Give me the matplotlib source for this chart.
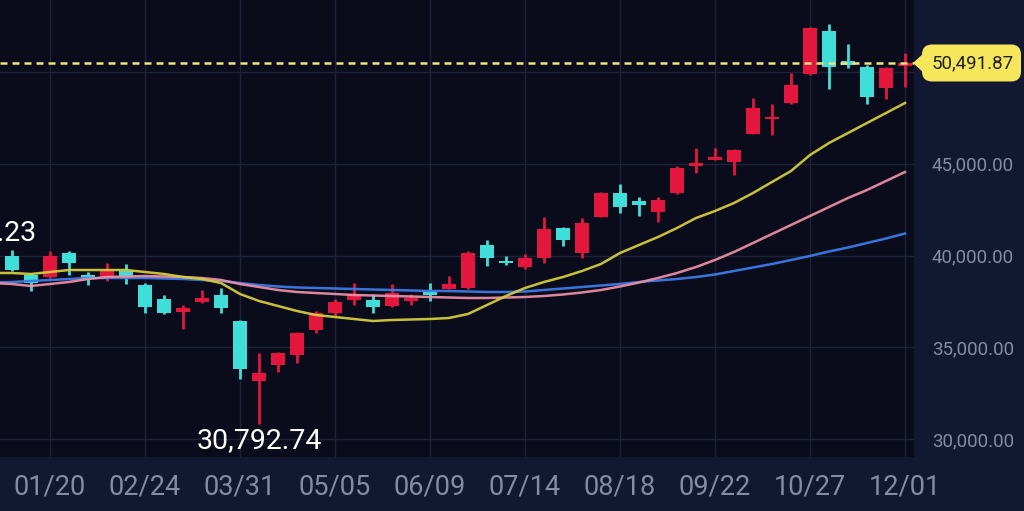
import matplotlib
matplotlib.use('Agg')
import matplotlib.pyplot as plt
import numpy as np
import pandas as pd
from matplotlib.patches import FancyBboxPatch, Polygon

# ---------------- data (weekly candles) ----------------
weeks = pd.date_range('2025-01-06', periods=48, freq='7D')
opens = [39973, 38937, 38828, 40136, 38937, 38828, 39155, 38392, 37629, 36921,
         37466, 37847, 36430, 33160, 34032, 34577, 35940, 36866, 37575, 37575,
         37248, 37521, 38065, 38174, 38229, 40572, 39700, 39373, 39864, 41499,
         40136, 42098, 43406, 42970, 42371, 43406, 44878, 45205, 45096, 46622,
         47439, 48311, 49892, 52235, 50600, 50273, 49129, 50328]
highs = [40300, 39046, 40245, 40245, 39101, 39591, 39537, 38501, 37847, 37302,
         38120, 38229, 36485, 34686, 34741, 35831, 36975, 37629, 38501, 37902,
         38447, 37902, 38501, 38883, 40245, 40845, 39973, 40082, 42098, 41553,
         42044, 43461, 43897, 43188, 43188, 44878, 45859, 45859, 45804, 48584,
         48257, 49946, 52450, 52617, 51527, 50382, 50273, 51036]
lows = [39155, 38065, 38774, 38937, 38392, 38610, 38447, 36866, 36812, 35994,
        37411, 36866, 33269, 30792.74, 33651, 34141, 35776, 36703, 37302, 36866,
        37193, 37302, 37521, 38174, 38174, 39428, 39482, 39264, 39591, 40518,
        39864, 42098, 42316, 42153, 41826, 43352, 44496, 45205, 44387, 46622,
        46567, 48257, 49837, 49074, 50219, 48257, 48529, 49183]
closes = [39210, 38501, 39973, 39591, 38719, 39155, 38828, 37193, 36866, 37139,
          37684, 37139, 33814, 33596, 34686, 35776, 36866, 37466, 37902, 37193,
          37956, 37684, 37847, 38447, 40136, 39864, 39591, 39864, 41444, 40845,
          41771, 43406, 42643, 42752, 43025, 44769, 45041, 45368, 45750, 48039,
          47548, 49292, 52399, 50273, 50382, 48638, 50219, 50491.87]

ma_weeks = pd.date_range('2024-12-30', periods=49, freq='7D')
ma_short = [39050, 39046, 38992, 39101, 39210, 39210, 39210, 39210, 39101, 38992,
            38828, 38719, 38501, 37902, 37521, 37248, 36975, 36757, 36648, 36539,
            36430, 36485, 36512, 36539, 36594, 36812, 37302, 37793, 38229, 38556,
            38828, 39155, 39537, 40136, 40572, 41008, 41499, 42044, 42425, 42861,
            43406, 44006, 44605, 45477, 46131, 46676, 47221, 47766, 48311]
ma_mid = [38500, 38447, 38338, 38447, 38556, 38719, 38828, 38856, 38883, 38856,
          38828, 38774, 38665, 38447, 38283, 38120, 38011, 37956, 37902, 37847,
          37820, 37793, 37766, 37738, 37711, 37684, 37684, 37711, 37738, 37793,
          37875, 37984, 38120, 38311, 38529, 38774, 39046, 39373, 39755, 40191,
          40681, 41172, 41662, 42153, 42643, 43134, 43570, 44060, 44551]
ma_long = [38530, 38556, 38610, 38665, 38719, 38774, 38774, 38774, 38774, 38747,
           38719, 38665, 38610, 38501, 38392, 38311, 38256, 38229, 38202, 38174,
           38147, 38120, 38093, 38065, 38065, 38038, 38011, 38011, 38038, 38120,
           38202, 38283, 38365, 38447, 38556, 38638, 38719, 38828, 38965, 39155,
           39346, 39537, 39755, 39973, 40218, 40436, 40681, 40927, 41199]

tick_labels = ['01/20', '02/24', '03/31', '05/05', '06/09',
               '07/14', '08/18', '09/22', '10/27', '12/01']
y_ticks = [30000, 35000, 40000, 45000]
grid_levels = [30000, 35000, 40000, 45000, 50000]
last_price = 50491.87
low_mark = ('2025-04-07', 30792.74)
high_mark = ('2024-12-23', 40398.23)

# ---------------- style ----------------
BG = '#0a0c1b'
PANEL = '#121832'
GRID = '#1d2236'
UP = '#e3173e'
DOWN = '#3fded8'
C_SHORT = '#d2cc3c'
C_MID = '#e98ea6'
C_LONG = '#3d7be6'
TXT = '#868ba2'
FONT = ['Roboto', 'DejaVu Sans']
plt.rcParams['font.family'] = FONT

t0 = weeks[0]
def pos(d):
    return (pd.Timestamp(d) - t0).days / 7.0

xs = np.array([pos(d) for d in weeks])
mxs = np.array([pos(d) for d in ma_weeks])

W, H = 1024, 511
fig = plt.figure(figsize=(W / 100, H / 100), dpi=100, facecolor=PANEL)
ax = fig.add_axes([0, 54 / H, 914 / W, 457 / H])
ax.set_facecolor(BG)
for s in ax.spines.values():
    s.set_visible(False)

# limits: week spacing 19 px, 01/20 at x=50 px
ax.set_xlim(-0.632, 47.474)
ax.set_ylim(29018.25, 53924.75)

# grid
label_pos = [xs[i] for i, d in enumerate(weeks) if d.strftime('%m/%d') in tick_labels]
for x in label_pos:
    ax.axvline(x, color=GRID, lw=1.0, zorder=0)
for y in grid_levels:
    ax.axhline(y, color=GRID, lw=1.0, zorder=0)

# candles
o = np.array(opens); c = np.array(closes); h = np.array(highs); l = np.array(lows)
cols = np.where(c >= o, UP, DOWN)
ax.vlines(xs, l, h, colors=cols, lw=2.0, zorder=2)
body_h = np.maximum(np.abs(c - o), 110)
body_b = np.minimum(o, c) - (body_h - np.abs(c - o)) / 2
ax.bar(xs, body_h, bottom=body_b, width=0.76, color=cols, zorder=2, linewidth=0)

# moving averages
ax.plot(mxs, ma_long, color=C_LONG, lw=1.8, zorder=3, alpha=0.95)
ax.plot(mxs, ma_mid, color=C_MID, lw=1.8, zorder=3, alpha=0.95)
ax.plot(mxs, ma_short, color=C_SHORT, lw=1.8, zorder=3, alpha=0.95)

# last price dashed line
ax.axhline(last_price, color='#f1e37c', lw=1.8, ls=(0, (2.8, 2.0)), zorder=4)

# high / low labels
ax.annotate(f'{low_mark[1]:,.2f}', xy=(pos(low_mark[0]), low_mark[1]),
            xytext=(0, -11.5), textcoords='offset points', ha='center', va='center',
            color='white', fontsize=20.5, annotation_clip=False, zorder=5)
ax.annotate(f'{high_mark[1]:,.2f}', xy=(pos(high_mark[0]), high_mark[1]),
            xytext=(0, 11.5), textcoords='offset points', ha='center', va='center',
            color='white', fontsize=20.5, annotation_clip=False, zorder=5)

# ticks
ax.set_xticks(label_pos)
ax.set_xticklabels(tick_labels)
ax.tick_params(axis='x', length=0, pad=12, labelsize=19.5, labelcolor=TXT)
ax.yaxis.tick_right()
ax.set_yticks(y_ticks)
ax.set_yticklabels([f'{v:,.2f}' for v in y_ticks])
ax.tick_params(axis='y', length=0, pad=13, labelsize=13.5, labelcolor=TXT)

# price tag (position from the data through the axes transform)
fig.canvas.draw()
_, ty = ax.transData.transform((0, last_price))
ty_in = ty / fig.dpi
tag_h = 0.37
tag = FancyBboxPatch((9.22, ty_in - tag_h / 2), 0.99, tag_h,
                     boxstyle='round,pad=0,rounding_size=0.10',
                     transform=fig.dpi_scale_trans, facecolor='#f6e65b',
                     edgecolor='none', zorder=10)
tri = Polygon([(9.13, ty_in), (9.25, ty_in + 0.11), (9.25, ty_in - 0.11)],
              closed=True, transform=fig.dpi_scale_trans, facecolor='#f6e65b',
              edgecolor='none', zorder=10)
fig.add_artist(tag)
fig.add_artist(tri)
fig.text(9.725, ty_in, f'{last_price:,.2f}', transform=fig.dpi_scale_trans,
         ha='center', va='center', fontsize=13.5, color='#222222', zorder=11)

fig.savefig('out.png', dpi=100, facecolor=PANEL)
